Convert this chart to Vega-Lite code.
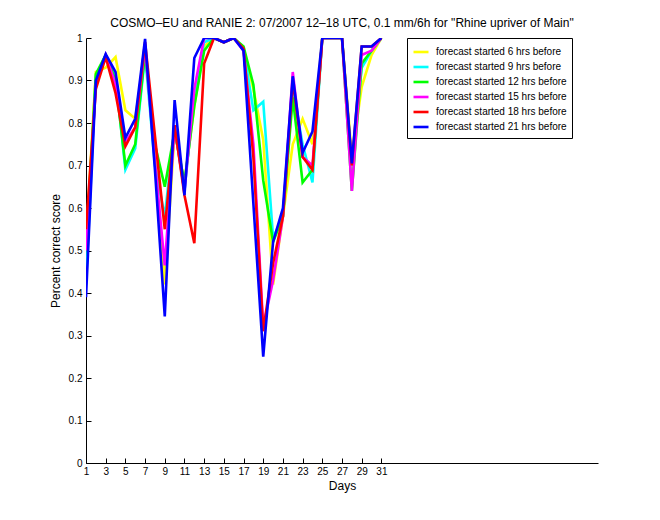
{
  "$schema": "https://vega.github.io/schema/vega-lite/v6.json",
  "autosize": {"type": "none"},
  "padding": {"left": 86, "top": 38, "right": 62, "bottom": 57},
  "width": 512,
  "height": 425,
  "background": "white",
  "title": {"text": "COSMO–EU and RANIE 2: 07/2007 12–18 UTC, 0.1 mm/6h for \"Rhine upriver of Main\"", "font": "Liberation Sans", "fontSize": 12, "fontWeight": "normal", "color": "black", "offset": 3, "anchor": "middle"},
  "config": {"view": {"stroke": null}},
  "data": {"values": [
    {"day": 1, "a": 0.52, "b": 0.42, "c": 0.50, "d": 0.50, "e": 0.55, "f": 0.39},
    {"day": 2, "a": 0.92, "b": 0.91, "c": 0.915, "d": 0.89, "e": 0.88, "f": 0.90},
    {"day": 3, "a": 0.93, "b": 0.96, "c": 0.96, "d": 0.96, "e": 0.955, "f": 0.962},
    {"day": 4, "a": 0.955, "b": 0.91, "c": 0.90, "d": 0.89, "e": 0.87, "f": 0.92},
    {"day": 5, "a": 0.83, "b": 0.69, "c": 0.70, "d": 0.755, "e": 0.745, "f": 0.765},
    {"day": 6, "a": 0.81, "b": 0.74, "c": 0.75, "d": 0.79, "e": 0.79, "f": 0.81},
    {"day": 7, "a": 0.97, "b": 0.96, "c": 0.965, "d": 0.98, "e": 0.99, "f": 0.998},
    {"day": 8, "a": 0.72, "b": 0.70, "c": 0.75, "d": 0.71, "e": 0.77, "f": 0.69},
    {"day": 9, "a": 0.42, "b": 0.58, "c": 0.65, "d": 0.465, "e": 0.55, "f": 0.345},
    {"day": 10, "a": 0.78, "b": 0.79, "c": 0.78, "d": 0.79, "e": 0.795, "f": 0.854},
    {"day": 11, "a": 0.66, "b": 0.64, "c": 0.66, "d": 0.64, "e": 0.63, "f": 0.63},
    {"day": 12, "a": 0.84, "b": 0.87, "c": 0.84, "d": 0.88, "e": 0.517, "f": 0.953},
    {"day": 13, "a": 0.98, "b": 0.99, "c": 0.97, "d": 1.0, "e": 0.94, "f": 1.0},
    {"day": 14, "a": 1, "b": 1, "c": 1, "d": 1, "e": 1, "f": 1},
    {"day": 15, "a": 0.99, "b": 0.99, "c": 0.99, "d": 0.99, "e": 0.99, "f": 0.99},
    {"day": 16, "a": 1, "b": 1, "c": 1, "d": 1, "e": 1, "f": 1},
    {"day": 17, "a": 0.975, "b": 0.975, "c": 0.98, "d": 0.97, "e": 0.975, "f": 0.97},
    {"day": 18, "a": 0.88, "b": 0.83, "c": 0.89, "d": 0.75, "e": 0.72, "f": 0.61},
    {"day": 19, "a": 0.76, "b": 0.85, "c": 0.665, "d": 0.32, "e": 0.31, "f": 0.25},
    {"day": 20, "a": 0.42, "b": 0.53, "c": 0.52, "d": 0.43, "e": 0.47, "f": 0.52},
    {"day": 21, "a": 0.58, "b": 0.58, "c": 0.58, "d": 0.58, "e": 0.58, "f": 0.60},
    {"day": 22, "a": 0.75, "b": 0.88, "c": 0.86, "d": 0.92, "e": 0.90, "f": 0.91},
    {"day": 23, "a": 0.81, "b": 0.75, "c": 0.66, "d": 0.72, "e": 0.72, "f": 0.73},
    {"day": 24, "a": 0.75, "b": 0.66, "c": 0.69, "d": 0.70, "e": 0.69, "f": 0.78},
    {"day": 25, "a": 1, "b": 1, "c": 1, "d": 1, "e": 1, "f": 1},
    {"day": 26, "a": 1, "b": 1, "c": 1, "d": 1, "e": 1, "f": 1},
    {"day": 27, "a": 1, "b": 1, "c": 1, "d": 1, "e": 1, "f": 1},
    {"day": 28, "a": 0.72, "b": 0.70, "c": 0.64, "d": 0.64, "e": 0.70, "f": 0.705},
    {"day": 29, "a": 0.885, "b": 0.93, "c": 0.94, "d": 0.96, "e": 0.98, "f": 0.98},
    {"day": 30, "a": 0.96, "b": 0.97, "c": 0.97, "d": 0.97, "e": 0.98, "f": 0.98},
    {"day": 31, "a": 1, "b": 1, "c": 1, "d": 1, "e": 1, "f": 1}
  ]},
  "transform": [
    {"fold": ["a", "b", "c", "d", "e", "f"], "as": ["key", "value"]}
  ],
  "mark": {"type": "line", "strokeWidth": 2.6, "clip": true},
  "encoding": {
    "x": {"field": "day", "type": "quantitative",
      "scale": {"domain": [1, 53], "nice": false, "zero": false},
      "axis": {"values": [1,3,5,7,9,11,13,15,17,19,21,23,25,27,29,31], "title": "Days", "titleFont": "Liberation Sans", "titleFontSize": 12, "titleFontWeight": "normal", "titleColor": "black", "titlePadding": 4,
        "labelFont": "Liberation Sans", "labelFontSize": 10, "labelColor": "black", "tickColor": "black", "domainColor": "black", "tickSize": -5, "labelPadding": 8, "grid": false, "labelFlush": false}},
    "y": {"field": "value", "type": "quantitative",
      "scale": {"domain": [0, 1], "nice": false},
      "axis": {"values": [0,0.1,0.2,0.3,0.4,0.5,0.6,0.7,0.8,0.9,1], "format": ".1~f", "title": "Percent correct score", "titleFont": "Liberation Sans", "titleFontSize": 12, "titleFontWeight": "normal", "titleColor": "black", "titlePadding": 6,
        "labelFont": "Liberation Sans", "labelFontSize": 10, "labelColor": "black", "tickColor": "black", "domainColor": "black", "tickSize": -5, "labelPadding": 9, "grid": false, "labelFlush": false}},
    "color": {"field": "key", "type": "nominal",
      "scale": {"domain": ["a", "b", "c", "d", "e", "f"], "range": ["#ffff00", "#00ffff", "#00ff00", "#ff00ff", "#ff0000", "#0000ff"]},
      "legend": {"title": null, "orient": "none", "legendX": 321, "legendY": 0, "symbolType": "stroke", "symbolSize": 225, "symbolStrokeWidth": 2.6, "symbolOffset": 0,
        "labelExpr": "{'a':'forecast started 6 hrs before','b':'forecast started 9 hrs before','c':'forecast started 12 hrs before','d':'forecast started 15 hrs before','e':'forecast started 18 hrs before','f':'forecast started 21 hrs before'}[datum.value]",
        "labelFont": "Liberation Sans", "labelFontSize": 10, "labelColor": "black", "rowPadding": 0, "strokeColor": "black", "fillColor": "white", "padding": 5, "labelOffset": 6}}
  }
}
